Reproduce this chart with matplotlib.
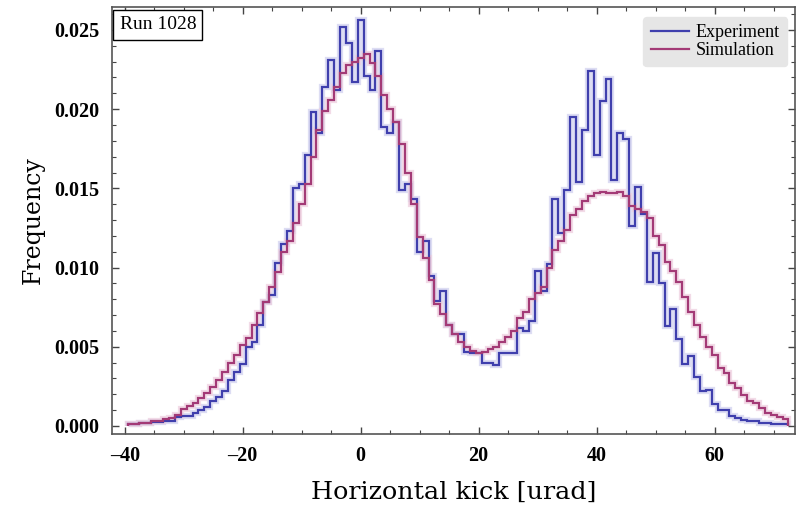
import numpy as np
import matplotlib
matplotlib.use("Agg")
import matplotlib.pyplot as plt
from matplotlib.ticker import MultipleLocator, FuncFormatter

# bin edges (1 urad wide, centred on integers -39 ... 72)
bin_edges = np.arange(-39.5, 73.0, 1.0)

experiment = [
    0.00013, 0.00015, 0.00017, 0.00020, 0.00025, 0.00027, 0.00032, 0.00034,   # -39..-32
    0.00055, 0.00062, 0.00065, 0.00080, 0.00100, 0.00120, 0.00160, 0.00185,   # -31..-24
    0.00220, 0.00290, 0.00340, 0.00390, 0.00500, 0.00530, 0.00640, 0.00780,   # -23..-16
    0.00830, 0.01030, 0.01150, 0.01230, 0.01500, 0.01530, 0.01710, 0.01980,   # -15..-8
    0.01850, 0.02140, 0.02310, 0.02120, 0.02520, 0.02420, 0.02170, 0.02560,   # -7..0
    0.02210, 0.02120, 0.02370, 0.01890, 0.01850, 0.01920, 0.01490, 0.01530,   # 1..8
    0.01430, 0.01100, 0.01170, 0.00950, 0.00790, 0.00850, 0.00640, 0.00580,   # 9..16
    0.00580, 0.00470, 0.00460, 0.00460, 0.00400, 0.00400, 0.00385, 0.00460,   # 17..24
    0.00460, 0.00460, 0.00620, 0.00600, 0.00660, 0.00980, 0.00850, 0.01020,   # 25..32
    0.01430, 0.01220, 0.01490, 0.01950, 0.01540, 0.01870, 0.02240, 0.01710,   # 33..40
    0.02050, 0.02190, 0.01550, 0.01850, 0.01810, 0.01260, 0.01510, 0.01340,   # 41..48
    0.00910, 0.01090, 0.00900, 0.00630, 0.00740, 0.00550, 0.00390, 0.00440,   # 49..56
    0.00310, 0.00220, 0.00230, 0.00140, 0.00100, 0.00100, 0.00060, 0.00050,   # 57..64
    0.00040, 0.00030, 0.00030, 0.00020, 0.00020, 0.00010, 0.00010, 0.00010,   # 65..72
]

simulation = [
    0.00013, 0.00015, 0.00020, 0.00022, 0.00030, 0.00034, 0.00042, 0.00053,   # -39..-32
    0.00070, 0.00105, 0.00126, 0.00143, 0.00175, 0.00210, 0.00248, 0.00290,   # -31..-24
    0.00343, 0.00396, 0.00448, 0.00511, 0.00553, 0.00638, 0.00711, 0.00785,   # -23..-16
    0.00880, 0.00974, 0.01100, 0.01170, 0.01280, 0.01400, 0.01530, 0.01700,   # -15..-8
    0.01870, 0.01990, 0.02060, 0.02140, 0.02230, 0.02280, 0.02300, 0.02320,   # -7..0
    0.02350, 0.02290, 0.02210, 0.02090, 0.02000, 0.01920, 0.01780, 0.01600,   # 1..8
    0.01400, 0.01190, 0.01060, 0.00920, 0.00770, 0.00710, 0.00640, 0.00580,   # 9..16
    0.00530, 0.00500, 0.00475, 0.00463, 0.00469, 0.00484, 0.00500, 0.00530,   # 17..24
    0.00560, 0.00600, 0.00680, 0.00720, 0.00800, 0.00840, 0.00880, 0.01000,   # 25..32
    0.01110, 0.01170, 0.01240, 0.01330, 0.01370, 0.01420, 0.01450, 0.01470,   # 33..40
    0.01480, 0.01470, 0.01470, 0.01480, 0.01450, 0.01390, 0.01370, 0.01350,   # 41..48
    0.01310, 0.01200, 0.01140, 0.01037, 0.00980, 0.00911, 0.00816, 0.00722,   # 49..56
    0.00638, 0.00564, 0.00497, 0.00448, 0.00364, 0.00333, 0.00273, 0.00238,   # 57..64
    0.00196, 0.00160, 0.00143, 0.00112, 0.00080, 0.00070, 0.00055, 0.00042,   # 65..72
]

x_ticks = [-40, -20, 0, 20, 40, 60]
y_ticks = [0.000, 0.005, 0.010, 0.015, 0.020, 0.025]

blue = "#3f3fad"
red = "#a33a76"

plt.rcParams["font.family"] = ["Liberation Serif", "DejaVu Serif"]

fig = plt.figure(figsize=(8.07, 5.08), dpi=100)
ax = fig.add_axes([0.1388, 0.1457, 0.8462, 0.8405])

# faint halos (uncertainty bands)
ax.stairs(experiment, bin_edges, color="#d2d2f0", lw=4.5, alpha=0.75, zorder=1)
ax.stairs(simulation, bin_edges, color="#eed0e0", lw=4.5, alpha=0.75, zorder=1)
ax.stairs(experiment, bin_edges, color=blue, lw=1.6, zorder=3, label="Experiment")
ax.stairs(simulation, bin_edges, color=red, lw=1.6, zorder=4, label="Simulation")

ax.set_xlim(-42.15, 73.6)
ax.set_ylim(-0.000505, 0.02645)

ax.xaxis.set_minor_locator(MultipleLocator(5))
ax.yaxis.set_minor_locator(MultipleLocator(0.001))
ax.set_xticks(x_ticks)
ax.set_yticks(y_ticks)
ax.xaxis.set_major_formatter(FuncFormatter(lambda v, p: f"{v:.0f}".replace("-", "\u2013")))
ax.yaxis.set_major_formatter(FuncFormatter(lambda v, p: f"{v:.3f}"))

ax.tick_params(which="both", direction="in", top=True, right=True, color="#444444")
ax.tick_params(which="major", length=5, width=1.0, labelsize=14.5, pad=9)
ax.tick_params(which="minor", length=2.8, width=0.8)
for lab in ax.get_xticklabels() + ax.get_yticklabels():
    lab.set_fontweight("bold")
for s in ax.spines.values():
    s.set_color("#555555")
    s.set_linewidth(1.2)

ax.set_xlabel("Horizontal kick [urad]", fontsize=18.3, labelpad=10,
              family=["DejaVu Serif"])
ax.set_ylabel("Frequency", fontsize=17, labelpad=7, family=["DejaVu Serif"])

ax.text(0.011, 0.978, "Run 1028", transform=ax.transAxes, fontsize=14,
        va="top", ha="left",
        bbox=dict(boxstyle="square,pad=0.32", fc="white", ec="black", lw=1.0))

leg = ax.legend(loc="upper right", bbox_to_anchor=(0.994, 0.985), fontsize=13,
                frameon=True, fancybox=True, handlelength=2.1, handletextpad=0.4,
                borderpad=0.4, labelspacing=0.05, borderaxespad=0.2)
leg.get_frame().set_facecolor("#e6e6e6")
leg.get_frame().set_edgecolor("#e6e6e6")
leg.get_frame().set_alpha(1.0)

fig.savefig("out.png", dpi=100)
